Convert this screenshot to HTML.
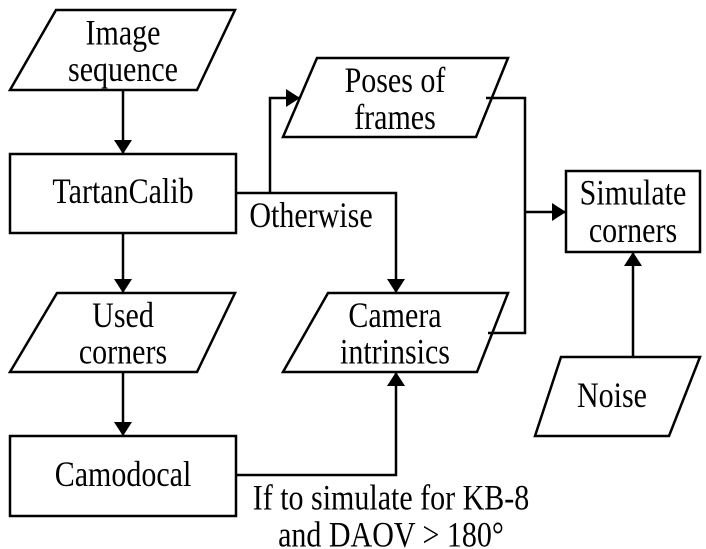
<!DOCTYPE html>
<html><head><meta charset="utf-8"><style>html,body{margin:0;padding:0;background:#fff}svg{display:block}text{font-family:"Liberation Serif",serif}</style></head>
<body>
<svg width="706" height="549" viewBox="0 0 706 549" xmlns="http://www.w3.org/2000/svg">
<defs>
<marker id="b" viewBox="0 0 10 10" markerWidth="14" markerHeight="18" refX="10" refY="5" orient="auto" markerUnits="userSpaceOnUse" preserveAspectRatio="none"><path d="M0,0 L10,5 L0,10 z" fill="#000"/></marker></defs>
<g fill="none" stroke="#000" stroke-width="2.5">
<polygon points="56,10 235,10 197,90 10,90"/>
<rect x="10" y="154" width="226" height="79"/>
<polygon points="317,58 508,58 476,137 283,137"/>
<polygon points="57,293 235,293 197,372 10,372"/>
<polygon points="328,293 508,293 477,372 283,372"/>
<rect x="10" y="436" width="226" height="80"/>
<rect x="566" y="171" width="134" height="81"/>
<polygon points="561,357 700,357 669,436 535,436"/>
<path d="M123,90 V154" marker-end="url(#b)"/>
<path d="M123,233 V293" marker-end="url(#b)"/>
<path d="M123,372 V436" marker-end="url(#b)"/>
<path d="M236,193 H396 V293" marker-end="url(#b)"/>
<path d="M270,193 V98 H300" marker-end="url(#b)"/>
<path d="M486,98 H525 V333 H488"/>
<path d="M525,212 H566" marker-end="url(#b)"/>
<path d="M633,357 V252" marker-end="url(#b)"/>
<path d="M236,475 H396 V372" marker-end="url(#b)"/>
</g>
<g font-size="30" text-anchor="middle" fill="#000" transform="scale(1,1.2)">
<text x="123" y="37">Image</text><text x="123" y="67.5">sequence</text>
<text x="123" y="169">TartanCalib</text>
<text x="395" y="76.5">Poses of</text><text x="395" y="107.5">frames</text>
<text x="123" y="272.5">Used</text><text x="123" y="303">corners</text>
<text x="395" y="272.5">Camera</text><text x="395" y="303">intrinsics</text>
<text x="123" y="405">Camodocal</text>
<text x="633" y="170.5">Simulate</text><text x="633" y="201.5">corners</text>
<text x="612" y="339">Noise</text>
<text x="311" y="189">Otherwise</text>
<text x="391" y="424.5">If to simulate for KB-8</text>
<text x="391" y="455.5">and DAOV &gt; 180°</text>
</g>
</svg>
</body></html>
